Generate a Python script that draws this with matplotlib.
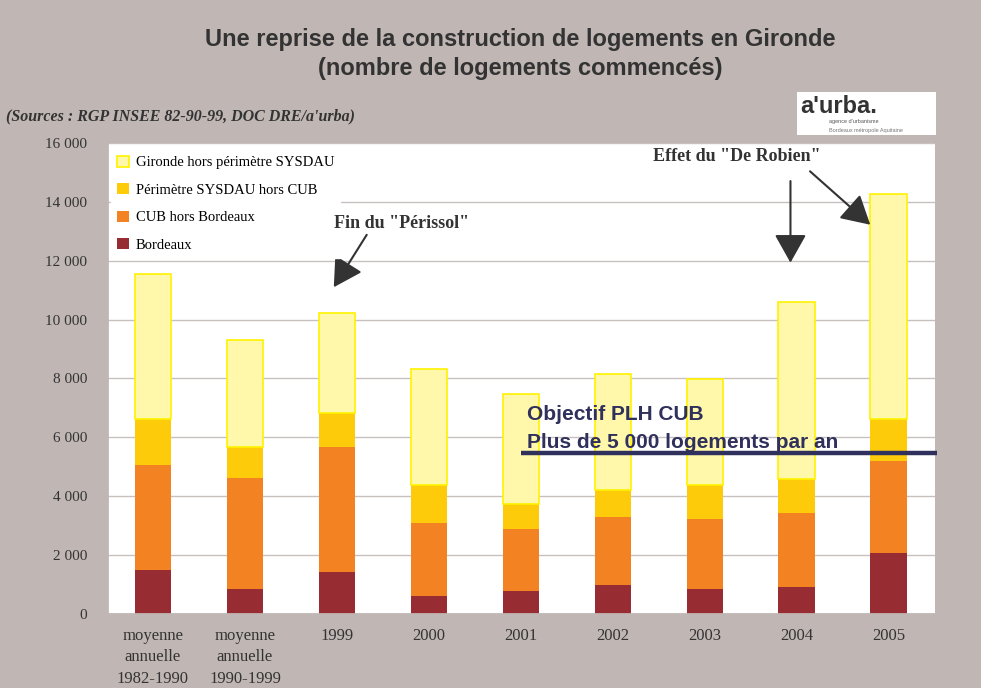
import numpy as np
import matplotlib.pyplot as plt
from matplotlib.patches import Rectangle

categories = ["moyenne\nannuelle\n1982-1990", "moyenne\nannuelle\n1990-1999",
              "1999", "2000", "2001", "2002", "2003", "2004", "2005"]
bordeaux = [1500, 850, 1430, 610, 780, 990, 850, 920, 2070]
cub_hors_bx = [3570, 3780, 4250, 2490, 2110, 2310, 2380, 2520, 3130]
sysdau_hors_cub = [1560, 1050, 1160, 1290, 850, 920, 1160, 1150, 1430]
gironde_hors = [4930, 3640, 3400, 3940, 3740, 3940, 3600, 6020, 7650]
objectif = 5480

bg = "#c0b7b4"
c_bx = "#982c33"
c_cub = "#f38222"
c_sys = "#fdcb0a"
c_gir = "#fff8aa"
navy = "#30305c"
ink = "#333333"

fig = plt.figure(figsize=(9.81, 6.88), dpi=100, facecolor=bg)
ax = fig.add_axes([0.109, 0.1076, 0.844, 0.6846])
ax.set_facecolor("white")

x = np.arange(len(categories))
w = 0.40
b1 = np.array(bordeaux)
b2 = b1 + np.array(cub_hors_bx)
b3 = b2 + np.array(sysdau_hors_cub)
ax.bar(x, bordeaux, w, color=c_bx, label="Bordeaux", zorder=2)
ax.bar(x, cub_hors_bx, w, bottom=b1, color=c_cub, label="CUB hors Bordeaux", zorder=2)
ax.bar(x, sysdau_hors_cub, w, bottom=b2, color=c_sys, label="Périmètre SYSDAU hors CUB", zorder=2)
ax.bar(x, gironde_hors, w, bottom=b3, color=c_gir, edgecolor="#fff200", linewidth=1.2,
       label="Gironde hors périmètre SYSDAU", zorder=2)

ax.set_xlim(-0.5, len(categories) - 0.5)
ax.set_ylim(0, 16000)
ax.set_yticks(np.arange(0, 16001, 2000))
ax.set_yticklabels(["0" if v == 0 else "{:,}".format(v).replace(",", " ") for v in range(0, 16001, 2000)],
                   family="Liberation Serif", fontsize=11, color=ink)
ax.set_xticks(x)
ax.set_xticklabels(categories, family="Liberation Serif", fontsize=12, color=ink,
                   linespacing=1.45)
ax.tick_params(length=0, pad=10)
ax.tick_params(axis="y", pad=14)
ax.grid(axis="y", color="#c8c0bd", linewidth=1, zorder=0)
for s in ax.spines.values():
    s.set_visible(False)
ax.spines["left"].set_visible(True)
ax.spines["left"].set_color(bg)
ax.spines["left"].set_linewidth(2)
ax.spines["bottom"].set_visible(True)
ax.spines["bottom"].set_color(bg)
ax.spines["bottom"].set_linewidth(2)

h, l = ax.get_legend_handles_labels()
leg = ax.legend(h[::-1], l[::-1], loc="upper left", bbox_to_anchor=(0.0, 0.995),
                prop={"family": "Liberation Serif", "size": 10.5},
                frameon=True, facecolor="white", edgecolor="white", framealpha=1,
                fancybox=False, handlelength=0.8, handleheight=0.8, labelspacing=0.95,
                borderaxespad=0.3, handletextpad=0.5)
leg.set_zorder(5)

# objectif PLH
ax.plot([4.0, 8.52], [objectif, objectif], color=navy, linewidth=3.2, zorder=4,
        clip_on=False, solid_capstyle="butt")
ax.text(4.07, 6600, "Objectif PLH CUB", family="Liberation Sans", fontweight="bold",
        fontsize=15, color=navy, zorder=6, va="baseline")
ax.text(4.07, 5650, "Plus de 5 000 logements par an", family="Liberation Sans",
        fontweight="bold", fontsize=15, color=navy, zorder=6, va="baseline")

# annotations
arrow = dict(arrowstyle="-|>,head_length=0.8,head_width=0.45", color=ink, lw=1.5,
             mutation_scale=22)
ax.text(2.7, 13270, 'Fin du "Périssol"', family="Liberation Serif", fontweight="bold",
        fontsize=13, color=ink, ha="center", va="center", zorder=6)
ax.annotate("", xy=(1.95, 11020), xytext=(2.34, 12960), arrowprops=arrow)
ax.text(6.35, 15550, 'Effet du "De Robien"', family="Liberation Serif", fontweight="bold",
        fontsize=13, color=ink, ha="center", va="center", zorder=6)
ax.annotate("", xy=(6.93, 11840), xytext=(6.93, 14800), arrowprops=arrow)
ax.annotate("", xy=(7.82, 13160), xytext=(7.12, 15100), arrowprops=arrow)

# titles
fig.text(0.53, 0.943, "Une reprise de la construction de logements en Gironde",
         family="Liberation Sans", fontweight="bold", fontsize=17, color=ink,
         ha="center", va="center")
fig.text(0.53, 0.901, "(nombre de logements commencés)", family="Liberation Sans",
         fontweight="bold", fontsize=17, color=ink, ha="center", va="center")
fig.text(0.006, 0.831, "(Sources : RGP INSEE 82-90-99, DOC DRE/a'urba)",
         family="Liberation Serif", style="italic", fontweight="bold", fontsize=11.5,
         color=ink, va="center")

# logo
fig.patches.append(Rectangle((0.812, 0.804), 0.142, 0.062, transform=fig.transFigure,
                             facecolor="white", edgecolor="none"))
fig.text(0.816, 0.845, "a'urba.", family="Liberation Sans", fontweight="bold",
         fontsize=17, color=ink, va="center")
fig.text(0.845, 0.823, "agence d'urbanisme", family="Liberation Sans", fontsize=4,
         color="#555555", va="center")
fig.text(0.845, 0.811, "Bordeaux métropole Aquitaine", family="Liberation Sans", fontsize=4,
         color="#777777", va="center")

fig.savefig("out.png", dpi=100, facecolor=bg)
